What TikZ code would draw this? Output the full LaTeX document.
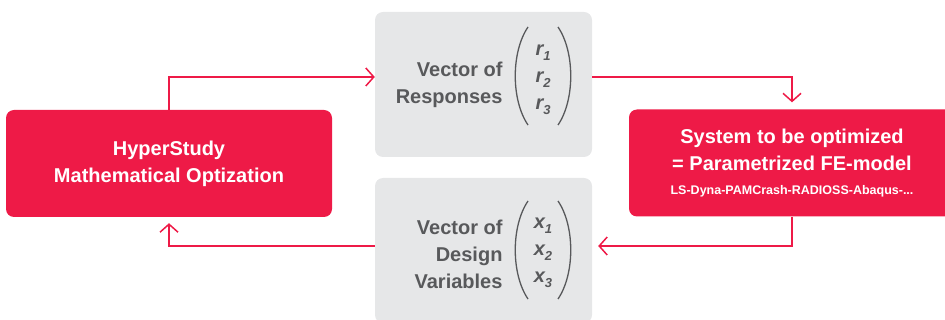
\documentclass[tikz,border=0pt]{standalone}
\usepackage{fontspec}
\setmainfont{Liberation Sans}
\usetikzlibrary{arrows.meta}
\definecolor{hsred}{HTML}{EE1A47}
\definecolor{hsgray}{HTML}{E6E7E8}
\definecolor{hstext}{HTML}{58595B}
\newcommand{\vent}[2]{#1\raisebox{-0.45ex}{\fontsize{13}{13}\selectfont#2}}
\tikzset{
  redbox/.style={fill=hsred, rounded corners=8pt, minimum width=326pt, minimum height=107pt,
    text=white, font=\fontsize{20}{27}\selectfont\bfseries, align=center},
  graybox/.style={fill=hsgray, rounded corners=8pt, minimum width=217pt, minimum height=145pt},
  vtext/.style={text=hstext, font=\fontsize{20}{27}\selectfont\bfseries, align=right, anchor=east},
  ventries/.style={text=hstext, font=\fontsize{20}{27}\selectfont\bfseries\itshape, align=center},
  paren/.style={draw=hstext, line width=1.3pt},
  flow/.style={draw=hsred, line width=1.5pt, -{Straight Barb[length=8pt,width=18pt,line width=1.5pt]}},
}
\begin{document}
\begin{tikzpicture}[x=1pt, y=-1pt]
\useasboundingbox (0,0) rectangle (945,320);
\node[redbox] (hyper) at (169,163.5){HyperStudy\\Mathematical Optization};
\node[graybox] (resp) at (483.5,84.5){};
\node[graybox] (dvars) at (483.5,250.5){};
\node[redbox] (sys) at (792,163){System to be optimized\\= Parametrized FE-model\\[-3pt]{\fontsize{12.5}{15}\selectfont LS-Dyna-PAMCrash-RADIOSS-Abaqus-...}};
\node[vtext] (resptxt) at (506,84.5){Vector of\\Responses};
\node[vtext] (dvarstxt) at (506,254){Vector of\\Design\\Variables};
\node[ventries] (rvec) at (543,80){\vent{r}{1}\\\vent{r}{2}\\\vent{r}{3}};
\node[ventries] (xvec) at (543,253){\vent{x}{1}\\\vent{x}{2}\\\vent{x}{3}};
% parentheses round the vectors
\foreach \v/\c in {rvec/76, xvec/250}{
  \draw[paren] (528,\c-49) .. controls (511,\c-24) and (511,\c+24) .. (528,\c+49);
  \draw[paren] (558,\c-49) .. controls (575,\c-24) and (575,\c+24) .. (558,\c+49);
}
% loop
\draw[flow] (hyper.north) |- ([yshift=7.5pt]resp.west);
\draw[flow, shorten >=7pt] ([yshift=7.5pt]resp.east) -| (sys.north);
\draw[flow, shorten >=6pt] (sys.south) |- ([yshift=4.5pt]dvars.east);
\draw[flow, shorten >=6pt] ([yshift=4.5pt]dvars.west) -| (hyper.south);
\end{tikzpicture}
\end{document}
